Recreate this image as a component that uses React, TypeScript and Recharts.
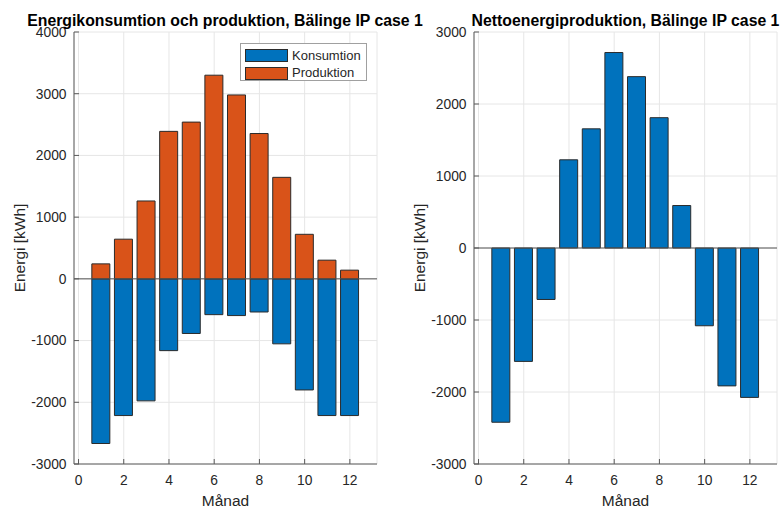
import React from 'react';
import { BarChart, Bar, XAxis, YAxis, CartesianGrid, ReferenceLine, Legend } from 'recharts';

const months = [1, 2, 3, 4, 5, 6, 7, 8, 9, 10, 11, 12];
const produktion = [243, 643, 1262, 2390, 2540, 3300, 2980, 2355, 1645, 722, 303, 141];
const konsumtion = [-2668, -2215, -1977, -1163, -885, -580, -595, -537, -1053, -1800, -2215, -2215];
const netto = [-2420, -1575, -715, 1225, 1655, 2715, 2380, 1810, 590, -1080, -1915, -2075];
const xTicks = [0, 2, 4, 6, 8, 10, 12];
const yTicksLeft = [-3000, -2000, -1000, 0, 1000, 2000, 3000, 4000];
const yTicksRight = [-3000, -2000, -1000, 0, 1000, 2000, 3000];

const titleLeft = 'Energikonsumtion och produktion, Bälinge IP case 1';
const titleRight = 'Nettoenergiproduktion, Bälinge IP case 1';
const xLabel = 'Månad';
const yLabel = 'Energi [kWh]';

const leftData = months.map((m, i) => ({ month: m, Konsumtion: konsumtion[i], Produktion: produktion[i] }));
const rightData = months.map((m, i) => ({ month: m, Netto: netto[i] }));

const FONT = '"Liberation Sans", Arial, Helvetica, sans-serif';
const BLUE = '#0072BD';
const ORANGE = '#D95319';
const EDGE = '#2b2b2b';
const AXIS = '#5a5a5a';
const TEXT = '#262626';
const GRID = '#e6e6e6';

const tickStyle = { fill: TEXT, fontSize: 13.8, fontFamily: FONT };
const labelStyle = { fill: TEXT, fontSize: 15.5, fontFamily: FONT, textAnchor: 'middle' as const };

const renderLegend = (props: any) => {
  const payload = props.payload || [];
  return (
    <div
      style={{
        background: '#fff',
        border: '1px solid #a0a0a0',
        width: 127,
        height: 38,
        boxSizing: 'border-box',
        padding: '3px 0 0 4px',
        fontFamily: FONT,
        fontSize: 13,
        color: TEXT,
      }}
    >
      {payload.map((p: any) => (
        <div key={p.value} style={{ display: 'flex', alignItems: 'center', height: 17.5 }}>
          <span
            style={{
              display: 'inline-block',
              width: 43,
              height: 13,
              boxSizing: 'border-box',
              background: p.color,
              border: `1px solid ${EDGE}`,
              marginRight: 4,
            }}
          />
          <span style={{ lineHeight: '14px' }}>{p.value}</span>
        </div>
      ))}
    </div>
  );
};

export default function App() {
  return (
    <div style={{ position: 'absolute', left: 0, top: 0, width: 782, height: 509, background: '#fff', fontFamily: FONT }}>
      <div style={{ position: 'absolute', left: 0, top: 0 }}>
        <BarChart
          width={400}
          height={509}
          data={leftData}
          margin={{ top: 32, right: 23, bottom: 0, left: 14 }}
          stackOffset="sign"
        >
          <CartesianGrid stroke={GRID} horizontal vertical />
          <XAxis
            dataKey="month"
            type="number"
            domain={[-0.2, 13.2]}
            allowDataOverflow
            ticks={xTicks}
            interval={0}
            height={45}
            tickSize={-5}
            tickMargin={16}
            tickLine={{ stroke: AXIS }}
            axisLine={{ stroke: AXIS }}
            tick={tickStyle}
            label={{ value: xLabel, position: 'insideBottom', offset: 3, style: labelStyle }}
          />
          <YAxis
            type="number"
            domain={[-3000, 4000]}
            ticks={yTicksLeft}
            interval={0}
            width={60}
            tickSize={-5}
            tickMargin={12.5}
            tickLine={{ stroke: AXIS }}
            axisLine={{ stroke: AXIS }}
            tick={tickStyle}
            label={{ value: yLabel, angle: -90, position: 'insideLeft', offset: 5, style: labelStyle }}
          />
          <ReferenceLine y={0} stroke="#555" strokeWidth={1} />
          <Legend
            content={renderLegend}
            layout="vertical"
            align="center"
            verticalAlign="middle"
            wrapperStyle={{ position: 'absolute', left: 240, top: 43, width: 127, height: 38 }}
          />
          <Bar dataKey="Konsumtion" stackId="a" fill={BLUE} stroke={EDGE} strokeWidth={1} barSize={18} isAnimationActive={false} />
          <Bar dataKey="Produktion" stackId="a" fill={ORANGE} stroke={EDGE} strokeWidth={1} barSize={18} isAnimationActive={false} />
        </BarChart>
      </div>
      <div style={{ position: 'absolute', left: 400, top: 0 }}>
        <BarChart width={382} height={509} data={rightData} margin={{ top: 32, right: 5, bottom: 0, left: 14 }}>
          <CartesianGrid stroke={GRID} horizontal vertical />
          <XAxis
            dataKey="month"
            type="number"
            domain={[-0.2, 13.2]}
            allowDataOverflow
            ticks={xTicks}
            interval={0}
            height={45}
            tickSize={-5}
            tickMargin={16}
            tickLine={{ stroke: AXIS }}
            axisLine={{ stroke: AXIS }}
            tick={tickStyle}
            label={{ value: xLabel, position: 'insideBottom', offset: 3, style: labelStyle }}
          />
          <YAxis
            type="number"
            domain={[-3000, 3000]}
            ticks={yTicksRight}
            interval={0}
            width={60}
            tickSize={-5}
            tickMargin={12.5}
            tickLine={{ stroke: AXIS }}
            axisLine={{ stroke: AXIS }}
            tick={tickStyle}
            label={{ value: yLabel, angle: -90, position: 'insideLeft', offset: 5, style: labelStyle }}
          />
          <ReferenceLine y={0} stroke="#555" strokeWidth={1} />
          <Bar dataKey="Netto" fill={BLUE} stroke={EDGE} strokeWidth={1} barSize={18} isAnimationActive={false} />
        </BarChart>
      </div>
      <svg width={782} height={509} style={{ position: 'absolute', left: 0, top: 0, pointerEvents: 'none' }}>
        <text x={225} y={26} textAnchor="middle" fontFamily={FONT} fontWeight="bold" fontSize={15.8} fill="#000">
          {titleLeft}
        </text>
        <text x={625.5} y={26} textAnchor="middle" fontFamily={FONT} fontWeight="bold" fontSize={15.8} fill="#000">
          {titleRight}
        </text>
      </svg>
    </div>
  );
}
